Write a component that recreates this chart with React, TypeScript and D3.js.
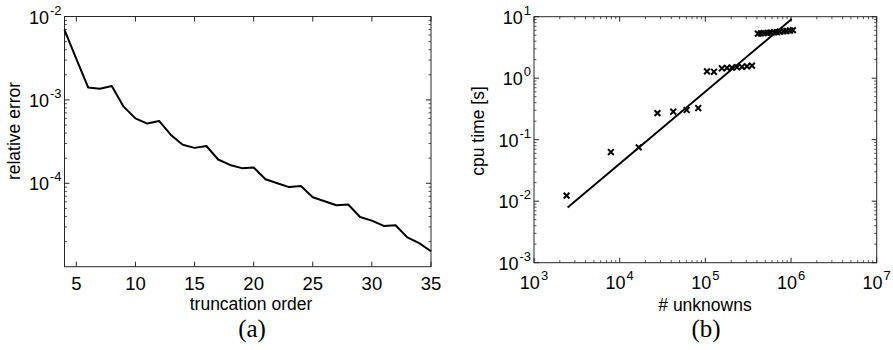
import React from "react";
import * as d3 from "d3";

// (a) truncation order vs relative error
const truncationOrder = [
  4, 5, 6, 7, 8, 9, 10, 11, 12, 13, 14, 15, 16, 17, 18, 19, 20, 21, 22, 23, 24,
  25, 26, 27, 28, 29, 30, 31, 32, 33, 34, 35,
];
const relativeError = [
  6.9e-3, 3.1e-3, 1.41e-3, 1.36e-3, 1.47e-3, 8.3e-4, 6.0e-4, 5.2e-4, 5.6e-4,
  3.8e-4, 2.9e-4, 2.66e-4, 2.8e-4, 1.93e-4, 1.66e-4, 1.52e-4, 1.55e-4, 1.12e-4,
  1.0e-4, 9.0e-5, 9.3e-5, 6.8e-5, 6.1e-5, 5.46e-5, 5.56e-5, 3.95e-5, 3.57e-5,
  3.08e-5, 3.14e-5, 2.25e-5, 1.92e-5, 1.53e-5,
];
const orderTicks = [5, 10, 15, 20, 25, 30, 35];
const errorTicks = [1e-2, 1e-3, 1e-4];

// (b) # unknowns vs cpu time
const unknowns = [
  2400, 7900, 16700, 27600, 42200, 60500, 82600, 104500, 126000, 156000, 179000,
  204000, 234000, 267000, 306000, 350000, 411000, 446000, 483000, 531000,
  575000, 631000, 684000, 742000, 815000, 883000, 970000, 1050000,
];
const cpuTime = [
  0.0123, 0.063, 0.075, 0.27, 0.285, 0.304, 0.327, 1.29, 1.27, 1.45, 1.47,
  1.49, 1.51, 1.53, 1.56, 1.6, 5.3, 5.35, 5.4, 5.45, 5.5, 5.55, 5.6, 5.7, 5.8,
  5.85, 5.95, 6.05,
];
const fitUnknowns = [2470, 1.02e6];
const fitTime = [7.9e-3, 9.2];
const unknownTicks = [1e3, 1e4, 1e5, 1e6, 1e7];
const timeTicks = [1e-3, 1e-2, 1e-1, 1e0, 1e1];

const FONT = "'Liberation Sans', Arial, Helvetica, sans-serif";
const SERIF = "'Liberation Serif', 'Times New Roman', serif";
const AXIS = "#262626";
const TICK = 5;
const MINOR = 2.5;

const exp = (v: number) => String(Math.round(Math.log10(v)));

function Pow10({ v, x, y, anchor }: { v: number; x: number; y: number; anchor: "end" | "middle" }) {
  return (
    <text x={x} y={y} textAnchor={anchor} fontSize={18} fontFamily={FONT} fill="#000">
      10
      <tspan dx={1} dy={-9} fontSize={13}>{exp(v)}</tspan>
    </text>
  );
}

function minorTicks(domain: number[]) {
  const out: number[] = [];
  const lo = Math.floor(Math.log10(domain[0]));
  const hi = Math.ceil(Math.log10(domain[1]));
  for (let e = lo; e < hi; e++) {
    for (let k = 2; k <= 9; k++) {
      const v = k * Math.pow(10, e);
      if (v > domain[0] && v < domain[1]) out.push(v);
    }
  }
  return out;
}

function ErrorPanel() {
  const x = d3.scaleLinear().domain([4, 35]).range([64.5, 431]);
  const y = d3.scaleLog().domain([1e-5, 1e-2]).range([266.7, 16.5]);
  const [x0, x1] = x.range();
  const [y0, y1] = y.range();
  const line = d3
    .line<number>()
    .x((_, i) => x(truncationOrder[i]))
    .y((d) => y(d));

  return (
    <g>
      <rect x={x0} y={y1} width={x1 - x0} height={y0 - y1} fill="none" stroke={AXIS} strokeWidth={1} />
      {orderTicks.map((t) => (
        <g key={t}>
          <line x1={x(t)} x2={x(t)} y1={y0} y2={y0 - TICK} stroke={AXIS} />
          <line x1={x(t)} x2={x(t)} y1={y1} y2={y1 + TICK} stroke={AXIS} />
          <text x={x(t)} y={290} textAnchor="middle" fontSize={18.5} fontFamily={FONT}>
            {t}
          </text>
        </g>
      ))}
      {errorTicks.map((t) => (
        <g key={t}>
          <line x1={x0} x2={x0 + TICK} y1={y(t)} y2={y(t)} stroke={AXIS} />
          <line x1={x1} x2={x1 - TICK} y1={y(t)} y2={y(t)} stroke={AXIS} />
          <Pow10 v={t} x={x0 - 3} y={y(t) + 7} anchor="end" />
        </g>
      ))}
      {minorTicks(y.domain()).map((t) => (
        <g key={t}>
          <line x1={x0} x2={x0 + MINOR} y1={y(t)} y2={y(t)} stroke={AXIS} strokeWidth={0.8} />
          <line x1={x1} x2={x1 - MINOR} y1={y(t)} y2={y(t)} stroke={AXIS} strokeWidth={0.8} />
        </g>
      ))}
      <path d={line(relativeError) || undefined} fill="none" stroke="#000" strokeWidth={2} strokeLinejoin="round" />
      <text x={251} y={310} textAnchor="middle" fontSize={17.5} fontFamily={FONT}>
        truncation order
      </text>
      <text transform="translate(20,131) rotate(-90)" textAnchor="middle" fontSize={17.5} fontFamily={FONT}>
        relative error
      </text>
      <text x={252} y={337} textAnchor="middle" fontSize={25} fontFamily={SERIF}>
        (a)
      </text>
    </g>
  );
}

function TimingPanel() {
  const x = d3.scaleLog().domain([1e3, 1e7]).range([534, 876.7]);
  const y = d3.scaleLog().domain([1e-3, 1e1]).range([262.7, 16.7]);
  const [x0, x1] = x.range();
  const [y0, y1] = y.range();
  const fit = d3
    .line<number>()
    .x((_, i) => x(fitUnknowns[i]))
    .y((d) => y(d));
  const s = 2.9;

  return (
    <g>
      <rect x={x0} y={y1} width={x1 - x0} height={y0 - y1} fill="none" stroke={AXIS} strokeWidth={1} />
      {unknownTicks.map((t) => (
        <g key={t}>
          <line x1={x(t)} x2={x(t)} y1={y0} y2={y0 - TICK} stroke={AXIS} />
          <line x1={x(t)} x2={x(t)} y1={y1} y2={y1 + TICK} stroke={AXIS} />
          <Pow10 v={t} x={x(t)} y={289} anchor="middle" />
        </g>
      ))}
      {minorTicks(x.domain()).map((t) => (
        <g key={t}>
          <line x1={x(t)} x2={x(t)} y1={y0} y2={y0 - MINOR} stroke={AXIS} strokeWidth={0.8} />
          <line x1={x(t)} x2={x(t)} y1={y1} y2={y1 + MINOR} stroke={AXIS} strokeWidth={0.8} />
        </g>
      ))}
      {timeTicks.map((t) => (
        <g key={t}>
          <line x1={x0} x2={x0 + TICK} y1={y(t)} y2={y(t)} stroke={AXIS} />
          <line x1={x1} x2={x1 - TICK} y1={y(t)} y2={y(t)} stroke={AXIS} />
          <Pow10 v={t} x={x0 - 3} y={y(t) + 7} anchor="end" />
        </g>
      ))}
      {minorTicks(y.domain()).map((t) => (
        <g key={t}>
          <line x1={x0} x2={x0 + MINOR} y1={y(t)} y2={y(t)} stroke={AXIS} strokeWidth={0.8} />
          <line x1={x1} x2={x1 - MINOR} y1={y(t)} y2={y(t)} stroke={AXIS} strokeWidth={0.8} />
        </g>
      ))}
      <path d={fit(fitTime) || undefined} fill="none" stroke="#000" strokeWidth={2} />
      {unknowns.map((u, i) => {
        const cx = x(u);
        const cy = y(cpuTime[i]);
        return (
          <path
            key={i}
            d={`M${cx - s},${cy - s}L${cx + s},${cy + s}M${cx - s},${cy + s}L${cx + s},${cy - s}`}
            stroke="#000"
            strokeWidth={2}
          />
        );
      })}
      <text x={705} y={311} textAnchor="middle" fontSize={17.5} fontFamily={FONT}>
        # unknowns
      </text>
      <text transform="translate(484,131) rotate(-90)" textAnchor="middle" fontSize={17.5} fontFamily={FONT}>
        cpu time [s]
      </text>
      <text x={706} y={337} textAnchor="middle" fontSize={25} fontFamily={SERIF}>
        (b)
      </text>
    </g>
  );
}

export default function App() {
  return (
    <div style={{ position: "absolute", left: 0, top: 0 }}>
      <svg width={893} height={350} style={{ display: "block", background: "#fff" }}>
        <ErrorPanel />
        <TimingPanel />
      </svg>
    </div>
  );
}
